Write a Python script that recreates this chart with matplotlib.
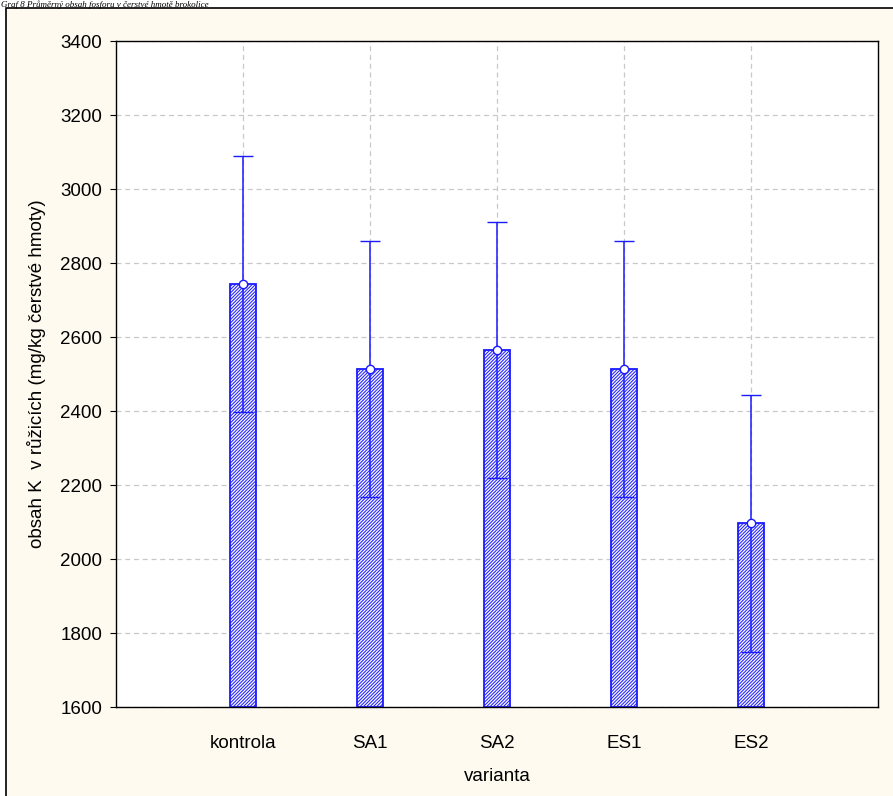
import numpy as np
import matplotlib.pyplot as plt
from matplotlib.patches import Rectangle

# data
varianty = ["kontrola", "SA1", "SA2", "ES1", "ES2"]
prumer = [2743, 2514, 2565, 2514, 2096]
chyba = [347, 346, 345, 346, 346]
y_ticks = [1600, 1800, 2000, 2200, 2400, 2600, 2800, 3000, 3200, 3400]

plt.rcParams['font.family'] = ['Liberation Sans', 'DejaVu Sans']
plt.rcParams['hatch.linewidth'] = 0.7
plt.rcParams['hatch.color'] = '#3a3aff'

blue = '#1a1aff'

fig = plt.figure(figsize=(8.93, 7.96), dpi=100, facecolor='white')

# cream panel with black frame (cut at right/bottom edge)
panel = Rectangle((5.5 / 893, -0.05), 1.1, 1 - 8 / 796 + 0.05,
                  transform=fig.transFigure, facecolor='#fffaf0',
                  edgecolor='black', linewidth=1.2, zorder=-10)
fig.patches.append(panel)

fig.text(0.001, 1 - 0.5 / 796, "Graf 8 Průměrný obsah fosforu v čerstvé hmotě brokolice",
         family='Liberation Serif', style='italic', fontsize=6.5,
         va='top', ha='left')

ax = fig.add_axes([116 / 893, 1 - 707 / 796, (878 - 116) / 893, (707 - 41) / 796])
ax.set_facecolor('white')

x = np.arange(1, len(varianty) + 1)
ax.bar(x, np.array(prumer) - 1600, bottom=1600, width=0.2, color='#f4f4ff',
       edgecolor=blue, hatch='//////////', linewidth=1.3, zorder=2)
ax.errorbar(x, prumer, yerr=chyba, fmt='o', color=blue, ecolor=blue,
            elinewidth=1.1, capsize=7, capthick=1.1, ms=6,
            mfc='white', mec=blue, mew=1.0, zorder=3)

ax.set_xlim(0, 6)
ax.set_ylim(1600, 3400)
ax.set_xticks(x)
ax.set_xticklabels(varianty)
ax.set_yticks(y_ticks)
ax.grid(True, color='#c8c8c8', linestyle=(0, (4, 3)), linewidth=0.9, zorder=0)
ax.set_axisbelow(True)

ax.tick_params(axis='y', direction='out', length=4, labelsize=13.5, pad=6)
ax.tick_params(axis='x', direction='in', length=4, labelsize=13.5, pad=20)
for s in ax.spines.values():
    s.set_linewidth(1.0)

ax.set_xlabel("varianta", fontsize=13.5, labelpad=12)
ax.set_ylabel("obsah K  v růžicích (mg/kg čerstvé hmoty)", fontsize=13.5, labelpad=10)

fig.savefig("out.png", dpi=100, facecolor=fig.get_facecolor())
